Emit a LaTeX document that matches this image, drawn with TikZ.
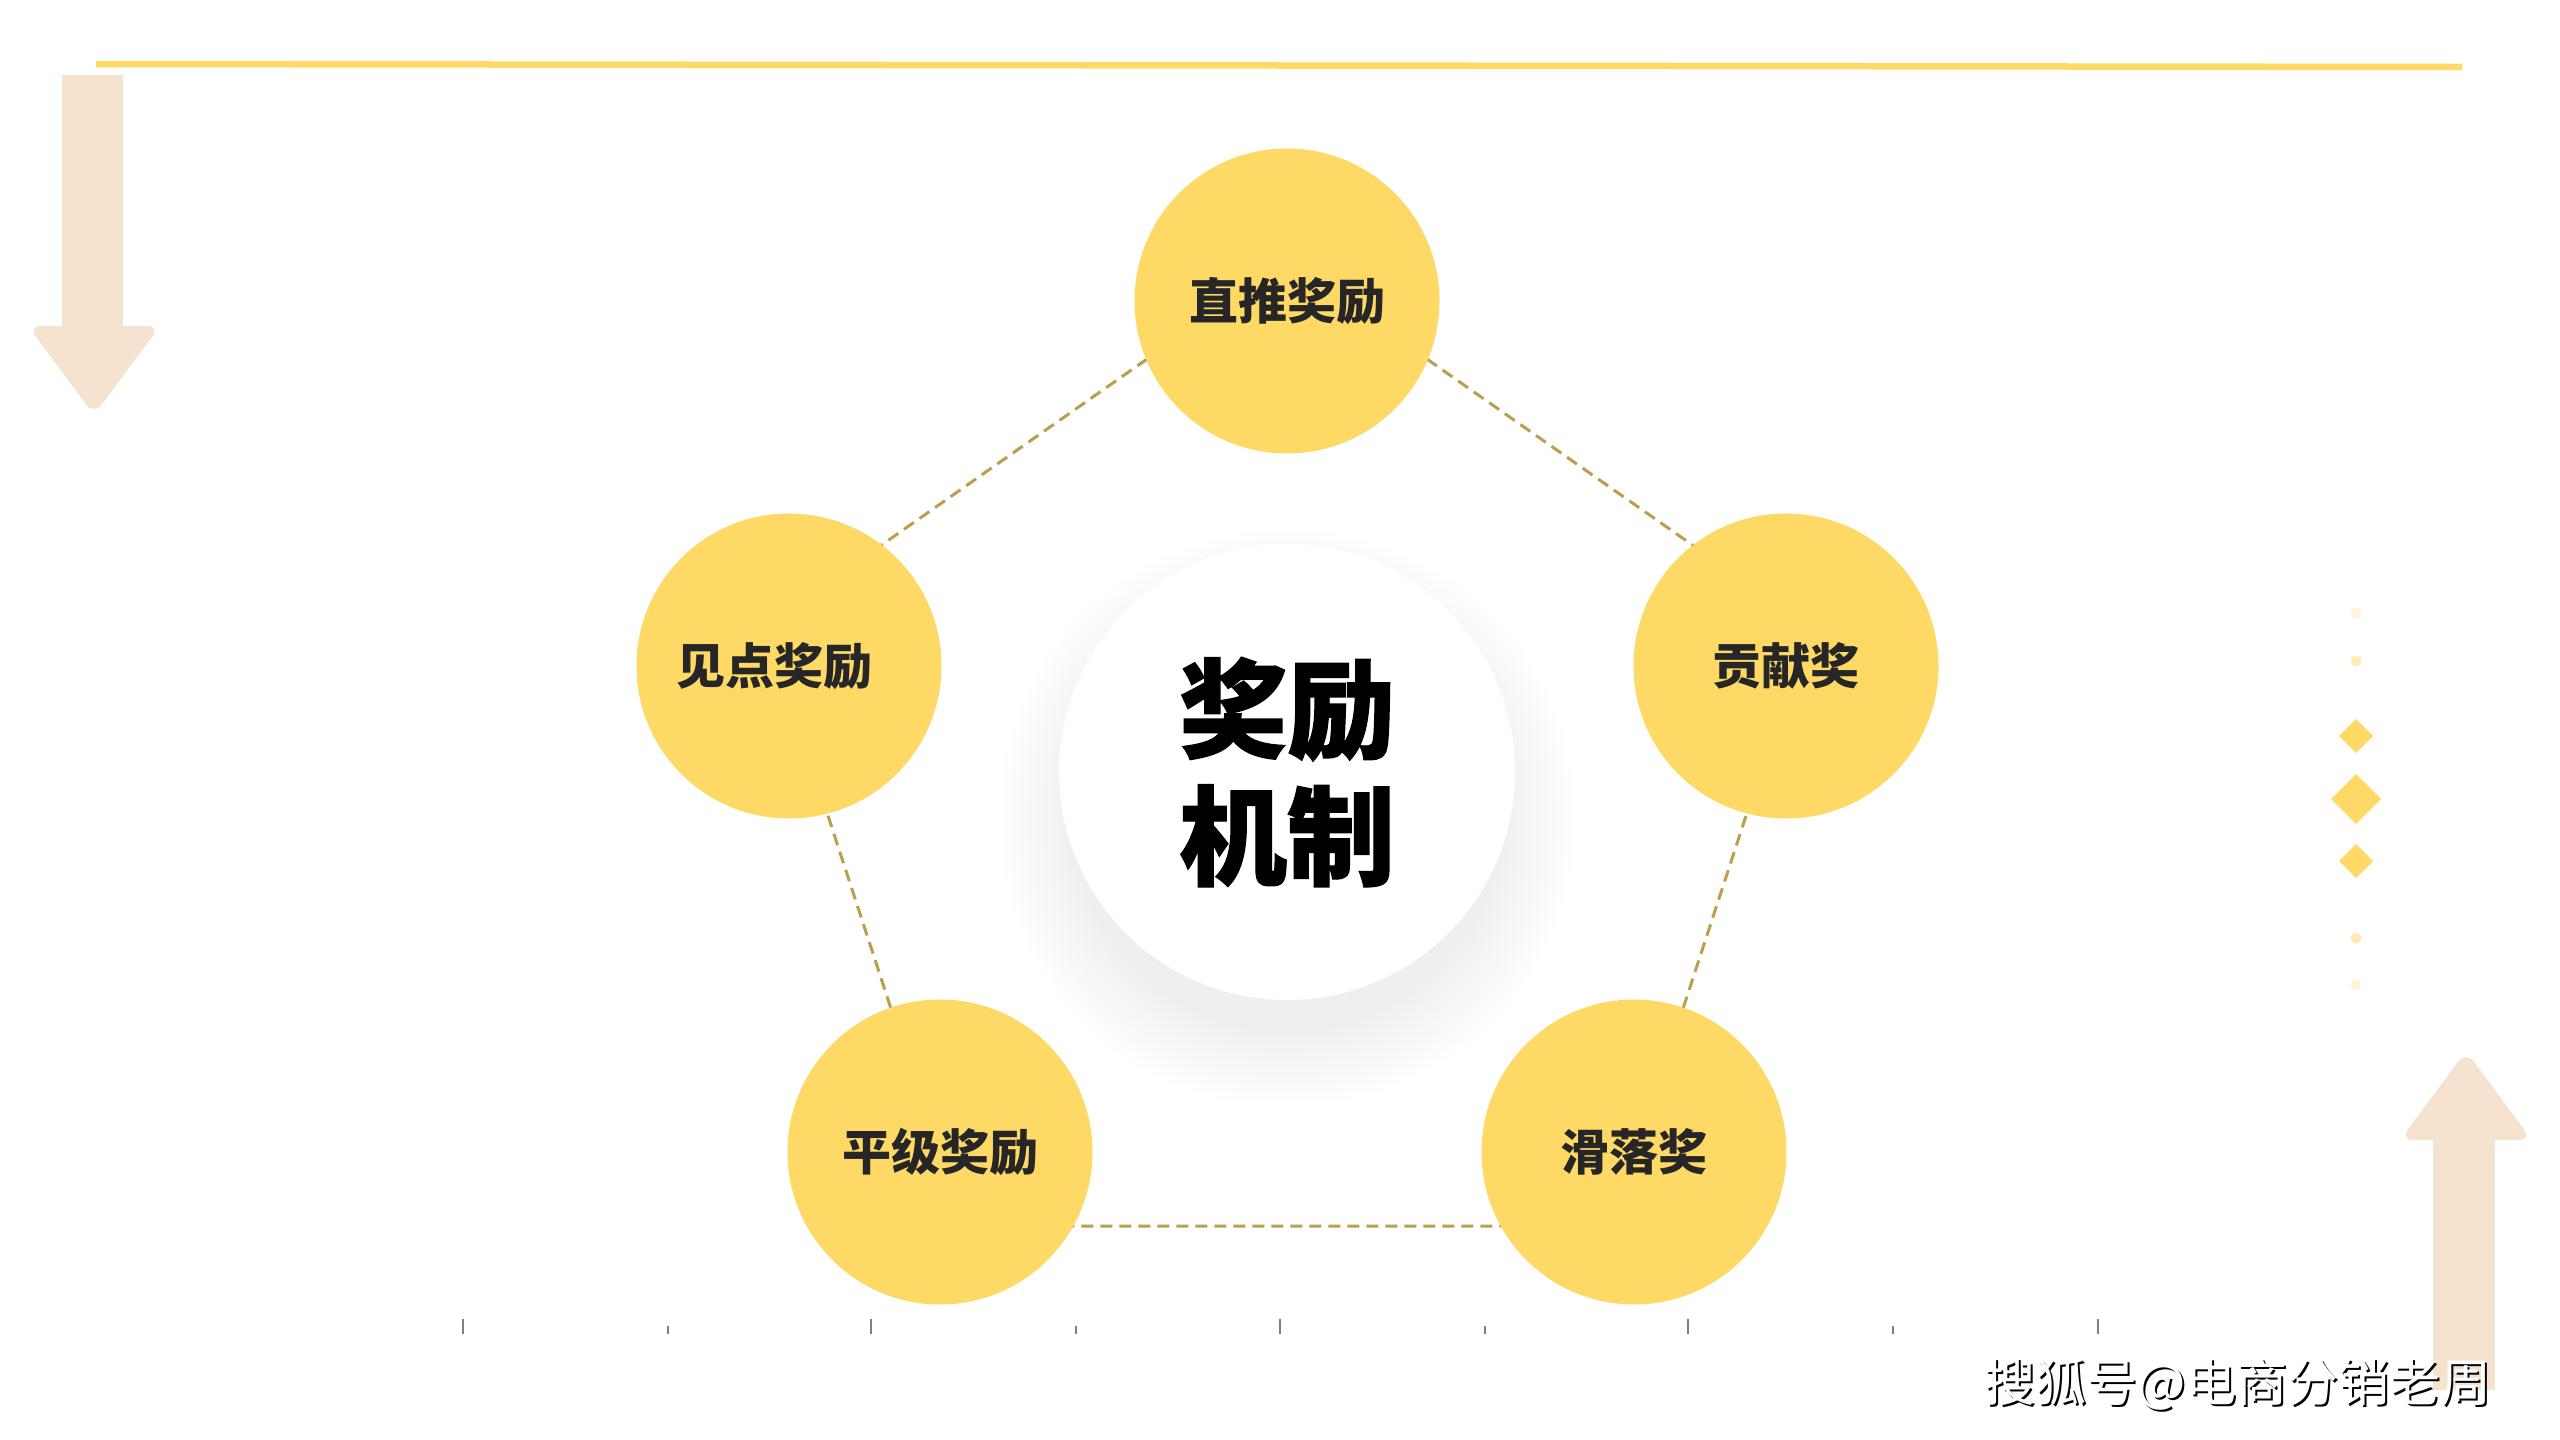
\documentclass[tikz,border=0pt]{standalone}
\usepackage{fontspec}
\newfontfamily\cjk{Noto Sans CJK SC}
\newfontfamily\cjkheavy{Noto Sans CJK SC}[FakeBold=1.1]
\definecolor{gold}{HTML}{FFD966}
\definecolor{dashc}{HTML}{BC9E4E}
\definecolor{arrowc}{HTML}{F5E3D0}
\definecolor{labeltxt}{HTML}{262626}
\definecolor{dotlight}{HTML}{FFF4D9}
\definecolor{dotmid}{HTML}{FFEBB3}
\definecolor{tickc}{HTML}{808080}
\begin{document}
\begin{tikzpicture}[x=1pt,y=-1pt,
  bubble/.style={circle, fill=gold, minimum size=305pt, inner sep=0pt, text=labeltxt,
    font=\cjk\bfseries\fontsize{49}{55}\selectfont},
  pentedge/.style={draw=dashc, line width=3pt, dash pattern=on 12pt off 7pt},
  deco/.style={fill=arrowc},
  tick/.style={draw=tickc, line width=2.5pt},
  wmark/.style={font=\cjk\fontsize{51}{51}\selectfont, inner sep=0pt}]
% canvas
\fill[white] (0,0) rectangle (2560,1440);
\useasboundingbox (0,0) rectangle (2560,1440);

% top line
\draw[gold, line width=6.5pt] (96,64) -- (2462,67);

% left down arrow
\fill[deco] (62,75) rectangle (123,332);
\fill[deco, rounded corners=13pt] (28,326) -- (160,326) -- (94,415) -- cycle;

% right up arrow
\fill[deco] (2433,1134) rectangle (2495,1390);
\fill[deco, rounded corners=13pt] (2400,1140) -- (2532,1140) -- (2466,1051) -- cycle;

% dots and diamonds
\fill[dotlight] (2356,613) circle (5.5pt);
\fill[dotmid] (2356,661) circle (5.5pt);
\fill[gold] (2356,719) -- (2373,736) -- (2356,753) -- (2339,736) -- cycle;
\fill[gold] (2356,774) -- (2381,799) -- (2356,824) -- (2331,799) -- cycle;
\fill[gold] (2356,844) -- (2373,861) -- (2356,878) -- (2339,861) -- cycle;
\fill[dotmid] (2356,938) circle (5.5pt);
\fill[dotlight] (2356,985) circle (5.5pt);

% ticks
\foreach \x in {463,871,1280,1688,2098} \draw[tick] (\x,1319) -- (\x,1334);
\foreach \x in {668,1076,1485,1893} \draw[tick] (\x,1326) -- (\x,1334);

% pentagon (dashed, behind circles)
\coordinate (vt) at (1287,261);
\coordinate (vl) at (766,626);
\coordinate (vr) at (1808,626);
\coordinate (vbl) at (962,1226);
\coordinate (vbr) at (1612,1226);
\draw[pentedge] (vt) -- (vr) -- (vbr) -- (vbl) -- (vl) -- cycle;

% shadow of center circle
\foreach \r in {290,285,...,215} \fill[black, opacity=0.005] (1287,818) circle (\r pt);

% center circle
\node[circle, fill=white, minimum size=456pt, inner sep=0pt, align=center,
  font=\cjkheavy\bfseries\fontsize{108}{127}\selectfont, text=black] (core) at (1287,772) {奖励\\机制};

% bubbles
\node[bubble] (zt) at (1287,301) {直推奖励};
\node[bubble] (jd) at (789,666) {\hspace*{-30pt}见点奖励};
\node[bubble] (gx) at (1786,666) {贡献奖};
\node[bubble] (pj) at (940,1152) {平级奖励};
\node[bubble] (hl) at (1634,1152) {滑落奖};

% watermark
\node[wmark, text=black] at (2240,1386) {搜狐号@电商分销老周};
\node[wmark, text=white] (wm) at (2238,1384) {搜狐号@电商分销老周};
\end{tikzpicture}
\end{document}
